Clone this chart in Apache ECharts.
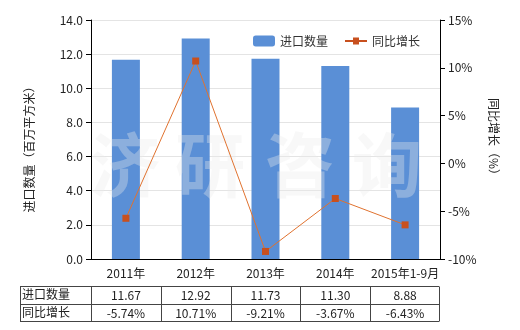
<!DOCTYPE html>
<html>
<head>
<meta charset="utf-8">
<script src="https://cdn.jsdelivr.net/npm/echarts@6/dist/echarts.min.js"></script>
<style>
  html, body { margin: 0; padding: 0; background: #fff; }
  #main { width: 520px; height: 330px; }
</style>
</head>
<body>
<div id="main"></div>
<script>
// 数据
const categories = ['2011年', '2012年', '2013年', '2014年', '2015年1-9月']
const importQty = [11.67, 12.92, 11.73, 11.30, 8.88] // 进口数量（百万平方米）
const yoyGrowth = [-5.74, 10.71, -9.21, -3.67, -6.43] // 同比增长（%）
const qtyLabels = ['11.67', '12.92', '11.73', '11.30', '8.88']
const growthLabels = ['-5.74%', '10.71%', '-9.21%', '-3.67%', '-6.43%']

const font = '"Noto Sans CJK SC", "Microsoft YaHei", sans-serif'
const gridLeft = 91
const gridRight = 440
const gridTop = 20
const gridBottom = 259

const chart = echarts.init(document.getElementById('main'))

// 表格（在图表下方）
function buildTable () {
  const els = []
  const rowTop = 286
  const rowH = 17.5
  const colW = (gridRight - gridLeft) / categories.length
  const tableLeft = 20
  const lineStyle = { stroke: '#444', lineWidth: 1 }
  // 横线
  for (let r = 0; r <= 2; r++) {
    const y = Math.round(rowTop + r * rowH) + 0.5
    els.push({ type: 'line', shape: { x1: tableLeft, y1: y, x2: gridRight - 1, y2: y }, style: lineStyle })
  }
  // 竖线
  const xs = [tableLeft, gridLeft]
  for (let i = 1; i <= categories.length; i++) xs.push(gridLeft + colW * i - (i === categories.length ? 1 : 0))
  xs.forEach(x => {
    const xx = Math.round(x) + 0.5
    els.push({ type: 'line', shape: { x1: xx, y1: rowTop + 0.5, x2: xx, y2: Math.round(rowTop + 2 * rowH) + 0.5 }, style: lineStyle })
  })
  const rows = [['进口数量', qtyLabels], ['同比增长', growthLabels]]
  rows.forEach((row, r) => {
    const cy = rowTop + rowH * r + rowH / 2
    els.push({
      type: 'text', x: tableLeft + 2, y: cy,
      style: { text: row[0], font: '12px ' + font, fill: '#222', verticalAlign: 'middle', align: 'left' }
    })
    row[1].forEach((t, i) => {
      els.push({
        type: 'text', x: gridLeft + colW * (i + 0.5), y: cy + 1,
        style: { text: t, font: '12px ' + font, fill: '#222', verticalAlign: 'middle', align: 'center' }
      })
    })
  })
  return els
}

// 水印
const wmX = [125, 210, 300, 387]
const watermark = ['济', '研', '咨', '询'].map((ch, i) => ({
  type: 'text',
  x: wmX[i],
  y: 165,
  z: 2,
  style: {
    text: ch,
    font: 'bold 70px ' + font,
    fill: 'rgba(235, 235, 235, 0.35)',
    align: 'center',
    verticalAlign: 'middle'
  }
}))

const option = {
  animation: false,
  textStyle: { fontFamily: font },
  legend: {
    top: 30,
    left: 248,
    itemWidth: 22,
    itemHeight: 11,
    itemGap: 17,
    textStyle: { fontSize: 12, color: '#333' },
    data: [
      { name: '进口数量' },
      { name: '同比增长', icon: 'path://M0,4.5 L22,4.5 L22,6.5 L0,6.5 Z M8,2 L14,2 L14,9 L8,9 Z' }
    ]
  },
  grid: {
    left: gridLeft,
    right: 520 - gridRight,
    top: gridTop,
    bottom: 330 - gridBottom
  },
  xAxis: {
    type: 'category',
    data: categories,
    axisLine: { lineStyle: { color: '#000' } },
    axisTick: { alignWithLabel: true, length: 5, lineStyle: { color: '#000' } },
    axisLabel: { color: '#222', fontSize: 12, margin: 8, interval: 0 }
  },
  yAxis: [
    {
      type: 'value',
      min: 0,
      max: 14,
      interval: 2,
      name: '进口数量（百万平方米）',
      nameLocation: 'middle',
      nameGap: 56,
      nameTextStyle: { fontSize: 12, color: '#222', padding: [0, 14, 0, 0] },
      axisLine: { show: true, lineStyle: { color: '#000' } },
      axisTick: { show: true, length: 5, lineStyle: { color: '#000' } },
      axisLabel: { color: '#222', fontSize: 12, formatter: v => v.toFixed(1) },
      splitLine: { lineStyle: { color: '#e4e4e4' } }
    },
    {
      type: 'value',
      min: -10,
      max: 15,
      interval: 5,
      name: '同比增长（%）',
      nameLocation: 'middle',
      nameGap: 44,
      nameRotate: -90,
      nameTextStyle: { fontSize: 12, color: '#222' },
      axisLine: { show: true, lineStyle: { color: '#000' } },
      axisTick: { show: true, length: 5, lineStyle: { color: '#000' } },
      axisLabel: { color: '#222', fontSize: 12, formatter: '{value}%' },
      splitLine: { show: false }
    }
  ],
  series: [
    {
      name: '进口数量',
      type: 'bar',
      z: 1,
      data: importQty,
      barWidth: 28,
      itemStyle: { color: '#5a8fd6' }
    },
    {
      name: '同比增长',
      type: 'line',
      z: 3,
      yAxisIndex: 1,
      data: yoyGrowth,
      symbol: 'rect',
      symbolSize: 7,
      lineStyle: { color: '#e0722f', width: 1 },
      itemStyle: { color: '#c8501e' }
    }
  ],
  graphic: watermark.concat(buildTable())
}

chart.setOption(option)
</script>
</body>
</html>
